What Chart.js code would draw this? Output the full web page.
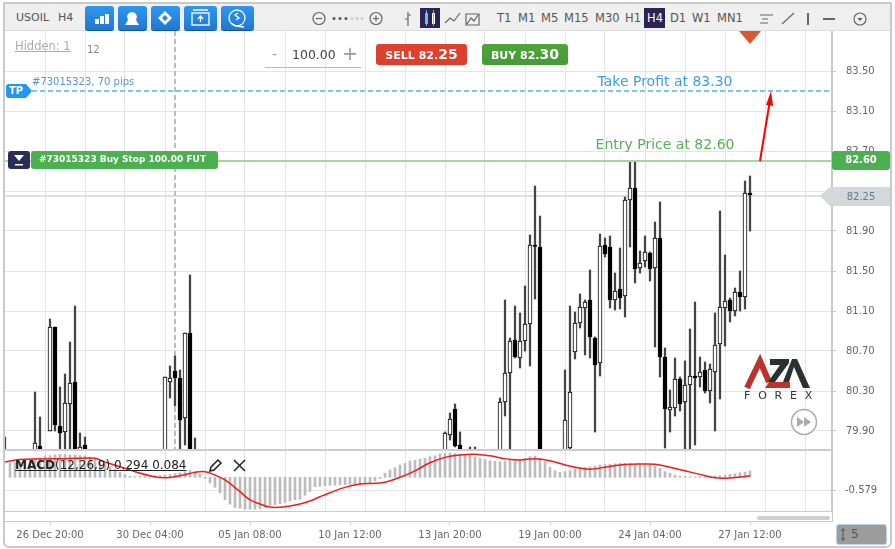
<!DOCTYPE html>
<html>
<head>
<meta charset="utf-8">
<title>USOIL H4</title>
<script src="https://cdn.jsdelivr.net/npm/chart.js@4/dist/chart.umd.min.js"></script>
<style>
html, body { margin: 0; padding: 0; background: #fff; width: 895px; height: 549px; overflow: hidden; font-family: "DejaVu Sans", sans-serif; }
canvas { position: absolute; left: 0; display: block; }
#chartPrecio { top: 0; }
#chartMacd { top: 450px; }
.abs { position: absolute; white-space: nowrap; }
#marco { left: 3px; top: 2px; width: 885px; height: 542px; border: 2px solid #c9c9c9; border-radius: 0 0 6px 6px; pointer-events: none; }
#toolbar { left: 5px; top: 4px; width: 885px; height: 27px; background: #efefef; border-bottom: 1px solid #ddd; box-sizing: border-box; }
.tb { font-size: 11px; color: #555; top: 11px; line-height: 13px; }
.tf { font-size: 11.5px; color: #555; top: 11px; line-height: 14px; }
.btn { top: 6px; height: 25px; border-radius: 3px; background: linear-gradient(#2e97ee, #1f78d4); border-bottom: 1px solid #14539a; box-sizing: border-box; }
#h4box { left: 644px; top: 8px; width: 21px; height: 20px; background: #2d2350; }
#banda { left: 5px; top: 512px; width: 827px; height: 9px; background: #fff; }
#barra { left: 757px; top: 516px; width: 73px; height: 4px; background: #cfcfcf; border-radius: 2px; }
#sell, #buy { top: 44px; height: 21px; border-radius: 3px; color: #fff; font-weight: bold; font-size: 11px; line-height: 21px; text-align: center; }
#sell { left: 376px; width: 91px; background: linear-gradient(#e2402f, #d8402e); }
#buy { left: 482px; width: 86px; background: linear-gradient(#4ea53a, #479a38); }
#sell b, #buy b { font-size: 14px; }
#caja5 { left: 836px; top: 524px; width: 51px; height: 21px; background: #9c9c9c; border: 1px solid #b9d3e6; border-radius: 3px; box-sizing: border-box; color: #555; font-size: 12px; line-height: 19px; padding-left: 14px; }
</style>
</head>
<body>
<canvas id="chartPrecio" width="895" height="450"></canvas>
<canvas id="chartMacd" width="895" height="99"></canvas>

<div class="abs" id="banda"></div>
<div class="abs" id="barra"></div>
<div class="abs" id="toolbar"></div>
<div class="abs tb" style="left:16px">USOIL</div>
<div class="abs tb" style="left:58px">H4</div>
<div class="abs btn" style="left:85px;width:29px"></div>
<div class="abs btn" style="left:118px;width:29px"></div>
<div class="abs btn" style="left:151px;width:29px"></div>
<div class="abs btn" style="left:184px;width:33px"></div>
<div class="abs btn" style="left:221px;width:33px"></div>
<div class="abs" id="h4box"></div>
<div class="abs tf" style="left:497px">T1</div>
<div class="abs tf" style="left:518px">M1</div>
<div class="abs tf" style="left:541px">M5</div>
<div class="abs tf" style="left:564px">M15</div>
<div class="abs tf" style="left:595px">M30</div>
<div class="abs tf" style="left:625px">H1</div>
<div class="abs tf" style="left:647px;color:#fff">H4</div>
<div class="abs tf" style="left:670px">D1</div>
<div class="abs tf" style="left:692px">W1</div>
<div class="abs tf" style="left:717px">MN1</div>

<div class="abs" style="left:15px;top:39px;font-size:11.5px;color:#aaa;text-decoration:underline">Hidden: 1</div>
<div class="abs" style="left:87px;top:44px;font-size:10px;color:#888">12</div>
<div class="abs" style="left:272px;top:46px;font-size:14px;color:#999">-</div>
<div class="abs" style="left:292px;top:47px;font-size:12.5px;color:#444">100.00</div>
<div class="abs" style="left:342px;top:42px;font-size:19px;color:#999">+</div>
<div class="abs" style="left:265px;top:67px;width:96px;height:1px;background:#bbb"></div>
<div class="abs" id="sell">SELL 82.<b>25</b></div>
<div class="abs" id="buy">BUY 82.<b>30</b></div>
<div class="abs" style="left:15px;top:458px;font-size:12px;color:#222;text-decoration:underline"><b>MACD</b>(12,26,9) 0.294 0.084</div>
<div class="abs" style="left:744px;top:389px;font-size:11px;color:#333;letter-spacing:7.8px">FOREX</div>
<div class="abs" id="caja5">5</div>

<svg class="abs" style="left:0;top:0;pointer-events:none" width="895" height="549">
  <!-- botones azules -->
  <g fill="#fff">
    <rect x="95" y="19" width="4" height="5"/><rect x="100" y="16" width="4" height="8"/><rect x="105" y="14" width="4" height="10"/>
    <path d="M132 12a5 5 0 0 1 4 8l3 5h-14l3-5a5 5 0 0 1 4-8z"/>
    <path d="M165 11l7 7-7 7-7-7zM165 15l-3 3 3 3 3-3z" fill-rule="evenodd"/>
  </g>
  <g fill="none" stroke="#fff" stroke-width="1.3">
    <rect x="192" y="13" width="17" height="12"/><path d="M193 10h15M200.500 22v-5M198 19l2.500-3 2.500 3"/>
    <circle cx="237" cy="18" r="8"/><path d="M231 23l5 3 8 1M238 13l-3 2 4 3-3 2"/>
  </g>
  <!-- zoom y tipos de grafico -->
  <g fill="none" stroke="#666" stroke-width="1.2">
    <circle cx="319" cy="18.500" r="6"/><path d="M316 18.500h6"/>
    <circle cx="376" cy="18.500" r="6"/><path d="M373 18.500h6M376 15.500v6"/>
    <path d="M408 12v14M405 19h3M408 15h3"/>
    <path d="M445 23l5-5 4 3 6-8"/>
    <path d="M466 25v-11h13v11zM467 24l4-6 3 3 4-6"/>
    <path d="M760 15h13M762 19h6M760 23h8"/><path d="M782 24l12-11"/>
    <path d="M808 13v12" stroke-width="2"/><path d="M823 19h12" stroke-width="2"/>
    <circle cx="860" cy="19" r="6"/>
  </g>
  <g fill="#555">
    <circle cx="334" cy="18.500" r="1.500"/><circle cx="340" cy="18.500" r="1.500"/><circle cx="346" cy="18.500" r="1.500"/>
    <path d="M857.500 18h5l-2.500 3z"/>
  </g>
  <g fill="#ccc"><circle cx="352" cy="18.500" r="1.500"/><circle cx="357" cy="18.500" r="1.500"/><circle cx="362" cy="18.500" r="1.500"/></g>
  <rect x="420" y="8" width="20" height="20" fill="#2d2350"/>
  <rect x="425" y="13" width="3" height="11" fill="#e8a040"/><rect x="432" y="13" width="3" height="11" fill="#fff"/>
  <path d="M426.500 10v16M433.500 10v16" stroke="#7fb8e8"/>
  <!-- marcador superior -->
  <path d="M739 31h22l-11 13z" fill="#dd5430"/>
  <!-- logo -->
  <path d="M747 388l13-27 9 21" fill="none" stroke="#bb342c" stroke-width="6"/>
  <path d="M769 382h21v6h-25z" fill="#bb342c"/>
  <path d="M770 359h19v4l-14 19h-7l12-17h-10z" fill="#2b3035"/>
  <path d="M783 382l9-23h5l13 29h-7l-9-21-5 15z" fill="#2b3035"/>
  <!-- avance rapido -->
  <circle cx="804" cy="422" r="12.500" fill="#fff" stroke="#aaa" stroke-width="1.500"/>
  <path d="M797 417l7 5-7 5zM804 417l7 5-7 5z" fill="#aaa"/>
  <!-- editar y cerrar macd -->
  <path d="M210 471l1-4 7-7 3 3-7 7z" fill="none" stroke="#222" stroke-width="1.500"/>
  <path d="M234 460l11 11M245 460l-11 11" stroke="#222" stroke-width="1.500"/>
  <!-- lineas del panel -->
  <rect x="5" y="449" width="827" height="2" fill="#ccc"/>
  <rect x="5" y="511" width="827" height="1" fill="#ccc"/>
  <path d="M843 528v13M841 531l2-2 2 2M841 538l2 2 2-2" stroke="#555" fill="none"/>
</svg>
<div class="abs" id="marco"></div>

<script>
// Eje de precios y de tiempo
const priceTicks = [83.5, 83.1, 82.7, 82.3, 81.9, 81.5, 81.1, 80.7, 80.3, 79.9];
const hiddenPriceLabel = 82.3; // queda tapada por la etiqueta del precio actual
const timeLabels = ['26 Dec 20:00', '30 Dec 04:00', '05 Jan 08:00', '10 Jan 12:00', '13 Jan 20:00', '19 Jan 00:00', '24 Jan 04:00', '27 Jan 12:00'];
const timeLabelIndex = [9, 29, 49, 69, 89, 109, 129, 149];
const gridIndex = [8, 16, 24, 32, 40, 48, 56, 64, 72, 80, 88, 96, 104, 112, 120, 128, 136, 144, 152, 160];
const macdTicks = [-0.579];

// Velas visibles (posicion de la vela en la serie H4)
const candleIndex = [0, 6, 7, 9, 10, 11, 12, 13, 14, 15, 16, 32, 33, 34, 35, 36, 37, 38, 88, 89, 90, 91, 93, 94, 99, 100, 101, 102, 103, 104, 105, 106, 107, 112, 113, 114, 115, 116, 117, 118, 119, 120, 121, 122, 123, 124, 125, 126, 127, 128, 129, 130, 131, 132, 133, 134, 135, 136, 137, 138, 139, 140, 141, 142, 143, 144, 145, 146, 147, 148, 149];
const candleOpen = [79.5, 79.5, 79.75, 79.9, 80.94, 79.95, 79.89, 80.17, 80.39, 79.6, 79.76, 79.5, 80.39, 80.5, 80.43, 80.03, 80.88, 79.7, 79.5, 79.86, 80.12, 79.76, 79.6, 79.6, 79.5, 80.19, 80.48, 80.81, 80.63, 80.8, 80.97, 81.76, 81.74, 79.5, 79.73, 80.69, 80.98, 81.13, 81.21, 80.83, 80.58, 81.76, 81.74, 81.21, 81.32, 81.25, 82.21, 82.33, 81.53, 81.6, 81.68, 81.53, 81.83, 80.64, 80.11, 80.13, 80.42, 80.19, 80.36, 80.45, 80.44, 80.51, 80.3, 80.49, 80.77, 81.13, 81.21, 81.1, 81.29, 81.24, 82.28];
const candleHigh = [79.84, 80.29, 80.04, 81.02, 80.94, 80.34, 80.47, 80.79, 81.15, 79.88, 79.84, 80.44, 80.55, 80.65, 80.51, 80.88, 81.46, 79.83, 79.89, 80.08, 80.17, 79.89, 79.74, 79.74, 80.23, 81.21, 80.83, 81.15, 81.08, 81.35, 81.86, 82.35, 82.05, 80.51, 81.15, 81.09, 81.27, 81.21, 81.51, 80.84, 81.87, 81.83, 81.85, 81.48, 81.73, 82.24, 82.59, 82.59, 81.7, 81.85, 81.69, 81.99, 82.19, 80.73, 80.31, 80.63, 80.44, 80.6, 80.92, 81.19, 80.64, 80.59, 80.57, 81.08, 82.1, 81.66, 81.23, 81.33, 81.5, 82.4, 82.45];
const candleLow = [79.4, 79.4, 79.4, 79.9, 79.9, 79.6, 79.6, 79.6, 79.5, 79.5, 79.5, 79.4, 80.23, 80.15, 79.6, 79.76, 79.5, 79.5, 79.4, 79.81, 79.74, 79.5, 79.4, 79.4, 79.4, 80.05, 79.5, 80.63, 80.53, 80.7, 80.55, 81.22, 79.4, 79.4, 79.6, 80.62, 80.93, 80.66, 80.63, 79.89, 80.45, 81.64, 81.13, 81.11, 81.12, 81.04, 81.74, 81.38, 81.48, 81.54, 81.4, 80.74, 80.44, 79.73, 79.89, 80.05, 80.1, 79.6, 79.6, 79.76, 80.34, 80.28, 80.18, 79.9, 80.22, 80.75, 80.99, 81.05, 81.1, 81.12, 81.9];
const candleClose = [79.6, 79.78, 79.5, 80.94, 79.96, 79.88, 80.18, 80.38, 79.6, 79.74, 79.6, 80.44, 80.43, 80.43, 80.01, 80.88, 79.6, 79.6, 79.88, 80.02, 79.75, 79.6, 79.5, 79.5, 80.19, 80.48, 80.8, 80.64, 80.8, 80.97, 81.76, 81.745, 79.5, 80.01, 80.29, 80.98, 81.14, 81.19, 80.84, 80.56, 81.75, 81.67, 81.21, 81.3, 81.23, 82.21, 82.33, 81.52, 81.58, 81.69, 81.52, 81.83, 80.64, 80.12, 80.14, 80.42, 80.17, 80.36, 80.45, 80.43, 80.49, 80.3, 80.52, 80.76, 81.14, 81.2, 81.1, 81.29, 81.24, 82.28, 82.26];

// MACD: histograma desde la vela 1, senal leida por tramos
const macdHist = [0.65, 0.65, 0.7, 0.75, 0.8, 0.85, 0.88, 0.93, 0.97, 1.0, 1.02, 1.02, 1.0, 1.0, 0.97, 0.95, 0.9, 0.85, 0.75, 0.62, 0.48, 0.35, 0.22, 0.12, 0.05, 0.03, 0.04, 0.05, 0.06, 0.07, 0.08, 0.1, 0.12, 0.16, 0.2, 0.25, 0.3, 0.26, 0.14, -0.05, -0.25, -0.45, -0.7, -1.0, -1.2, -1.35, -1.38, -1.42, -1.42, -1.43, -1.42, -1.35, -1.25, -1.22, -1.18, -1.12, -1.05, -1.0, -0.98, -0.8, -0.63, -0.42, -0.4, -0.37, -0.36, -0.35, -0.34, -0.33, -0.32, -0.31, -0.3, -0.28, -0.24, -0.15, -0.05, 0.18, 0.33, 0.42, 0.55, 0.62, 0.73, 0.76, 0.8, 0.85, 0.92, 0.96, 1.04, 1.06, 1.07, 1.06, 1.04, 1.0, 0.97, 0.9, 0.85, 0.78, 0.74, 0.72, 0.7, 0.72, 0.77, 0.77, 0.77, 0.85, 0.92, 0.95, 0.85, 0.7, 0.45, 0.3, 0.22, 0.25, 0.3, 0.38, 0.45, 0.45, 0.45, 0.5, 0.55, 0.57, 0.58, 0.6, 0.62, 0.62, 0.62, 0.6, 0.6, 0.58, 0.55, 0.5, 0.4, 0.25, 0.18, 0.1, 0.06, 0.04, 0.03, 0.02, 0.03, 0.04, 0.05, 0.06, 0.07, 0.1, 0.13, 0.16, 0.2, 0.23, 0.28];
const signalIndex = [0, 3, 7, 11, 15, 18, 20, 23, 26, 29, 32, 35, 38, 40, 42, 44, 47, 49, 51, 53, 55, 57, 59, 61, 63, 65, 68, 71, 74, 76, 79, 82, 85, 88, 91, 94, 97, 100, 103, 106, 109, 112, 114, 117, 120, 123, 127, 130, 133, 136, 139, 142, 145, 149];
const signalValues = [0.68, 0.79, 0.82, 0.83, 0.85, 0.85, 0.68, 0.47, 0.25, 0.07, -0.02, 0.07, 0.22, 0.25, 0.1, -0.12, -0.64, -1.01, -1.19, -1.33, -1.34, -1.28, -1.19, -1.06, -0.87, -0.69, -0.45, -0.3, -0.27, -0.22, 0, 0.29, 0.65, 0.89, 1.0, 1.03, 0.96, 0.83, 0.77, 0.83, 0.74, 0.55, 0.45, 0.36, 0.45, 0.55, 0.59, 0.58, 0.45, 0.29, 0.13, -0.02, -0.03, 0.07];

// Niveles de la orden
const tpPrice = 83.30;
const entryPrice = 82.60;
const currentPrice = 82.25;
const separatorIndex = 34;
const arrowFrom = { x: 151, y: 82.60 };
const arrowTo = { x: 153.2, y: 83.30 };

const X_MIN = 0;
const X_MAX = 165.4;
const GRID = '#e4e4e4';
const AXIS = '#c9c9c9';
const TICK_FONT = { family: 'DejaVu Sans', size: 10 };

// El padding de las etiquetas no debe encoger el area del grafico
function fixYAxis(s) {
    s.width = 63;
    s.paddingTop = 0;
    s.paddingBottom = 0;
}

const xScaleBase = {
    type: 'linear',
    min: X_MIN,
    max: X_MAX,
    offset: false,
    border: { display: false },
    grid: { offset: false, color: GRID, drawTicks: false },
    ticks: { display: false },
    afterBuildTicks: (s) => { s.ticks = gridIndex.map(v => ({ value: v })); },
    afterFit: (s) => { s.height = 0; s.paddingLeft = 0; s.paddingRight = 0; }
};

// Lineas y etiquetas de la orden, sobre las escalas del grafico
const orderPlugin = {
    id: 'orderLevels',
    beforeDatasetsDraw(chart) {
        const { ctx, scales: { x, y }, chartArea: a } = chart;
        ctx.save();
        ctx.fillStyle = '#e0e0e0';
        ctx.fillRect(a.left, Math.round(y.getPixelForValue(currentPrice)) - 1, a.right - a.left, 2);
        ctx.strokeStyle = '#bdbdbd';
        ctx.lineWidth = 2;
        ctx.setLineDash([5, 3]);
        ctx.beginPath();
        ctx.moveTo(x.getPixelForValue(separatorIndex), a.top);
        ctx.lineTo(x.getPixelForValue(separatorIndex), a.bottom);
        ctx.stroke();
        ctx.restore();
    },
    afterDraw(chart) {
        const { ctx, scales: { x, y }, chartArea: a } = chart;
        const tpY = Math.round(y.getPixelForValue(tpPrice));
        const entryY = Math.round(y.getPixelForValue(entryPrice));
        const curY = Math.round(y.getPixelForValue(currentPrice));
        ctx.save();

        // take profit
        ctx.strokeStyle = '#7fc0f5';
        ctx.lineWidth = 2;
        ctx.setLineDash([5, 3]);
        ctx.beginPath();
        ctx.moveTo(32, tpY);
        ctx.lineTo(a.right, tpY);
        ctx.stroke();
        ctx.setLineDash([]);
        ctx.fillStyle = '#2196f3';
        ctx.beginPath();
        ctx.roundRect(6, tpY - 7, 20, 14, 3);
        ctx.moveTo(22, tpY - 7);
        ctx.lineTo(26, tpY - 7);
        ctx.lineTo(32, tpY);
        ctx.lineTo(26, tpY + 7);
        ctx.lineTo(22, tpY + 7);
        ctx.fill();

        // entrada
        ctx.fillStyle = '#a5d6a2';
        ctx.fillRect(a.left, entryY - 1, a.right - a.left, 2);
        ctx.fillStyle = '#4caf50';
        ctx.beginPath();
        ctx.roundRect(31, entryY - 10, 187, 18, 3);
        ctx.fill();
        ctx.fillStyle = '#2a2d55';
        ctx.beginPath();
        ctx.roundRect(8, entryY - 10, 22, 18, 3);
        ctx.fill();
        ctx.fillStyle = '#fff';
        ctx.beginPath();
        ctx.moveTo(14, entryY - 6);
        ctx.lineTo(24, entryY - 6);
        ctx.lineTo(19, entryY);
        ctx.fill();
        ctx.fillRect(15, entryY + 3, 8, 1.5);
        ctx.fillStyle = '#4caf50';
        ctx.beginPath();
        ctx.roundRect(a.right, entryY - 10, 58, 19, 3);
        ctx.fill();

        // precio actual
        ctx.fillStyle = '#d3d8dc';
        ctx.beginPath();
        ctx.moveTo(820, curY);
        ctx.lineTo(830, curY - 9);
        ctx.lineTo(890, curY - 9);
        ctx.lineTo(890, curY + 10);
        ctx.lineTo(830, curY + 10);
        ctx.fill();

        // flecha
        const x0 = x.getPixelForValue(arrowFrom.x), y0 = y.getPixelForValue(arrowFrom.y);
        const x1 = x.getPixelForValue(arrowTo.x), y1 = y.getPixelForValue(arrowTo.y);
        ctx.strokeStyle = '#f00';
        ctx.fillStyle = '#f00';
        ctx.lineWidth = 2;
        ctx.beginPath();
        ctx.moveTo(x0, y0);
        ctx.lineTo(x1 - 1.5, y1 + 12);
        ctx.stroke();
        ctx.beginPath();
        ctx.moveTo(x1, y1);
        ctx.lineTo(x1 + 2, y1 + 15);
        ctx.lineTo(x1 - 5, y1 + 14);
        ctx.fill();

        // textos
        ctx.textBaseline = 'middle';
        ctx.textAlign = 'left';
        ctx.font = '10px "DejaVu Sans"';
        ctx.fillStyle = '#5b8fe0';
        ctx.fillText('#73015323, 70 pips', 32, tpY - 9);
        ctx.font = 'bold 10px "DejaVu Sans"';
        ctx.fillStyle = '#fff';
        ctx.fillText('TP', 9, tpY);
        ctx.font = 'bold 9px "DejaVu Sans"';
        ctx.fillText('#73015323 Buy Stop 100.00 FUT', 39, entryY - 1);
        ctx.textAlign = 'center';
        ctx.font = 'bold 10px "DejaVu Sans"';
        ctx.fillText(entryPrice.toFixed(2), 861, entryY - 1);
        ctx.font = '10px "DejaVu Sans"';
        ctx.fillStyle = '#66788a';
        ctx.fillText(currentPrice.toFixed(2), 861, curY + 1);
        ctx.font = '14px "DejaVu Sans"';
        ctx.fillStyle = '#3d9ee8';
        ctx.fillText('Take Profit at ' + tpPrice.toFixed(2), x.getPixelForValue(132), tpY - 9);
        ctx.fillStyle = '#56b05a';
        ctx.fillText('Entry Price at ' + entryPrice.toFixed(2), x.getPixelForValue(132), entryY - 16);
        ctx.restore();
    }
};

function renderPriceChart() {
    new Chart(document.getElementById('chartPrecio'), {
        type: 'bar',
        data: {
            datasets: [
                {
                    label: 'Cuerpo',
                    order: 1,
                    data: candleIndex.map((v, i) => ({ x: v, y: [candleOpen[i], candleClose[i]] })),
                    backgroundColor: candleIndex.map((v, i) => candleClose[i] >= candleOpen[i] ? '#fff' : '#000'),
                    borderColor: '#000',
                    borderWidth: 1,
                    borderSkipped: false,
                    barThickness: 4,
                    grouped: false
                },
                {
                    label: 'Mecha',
                    order: 2,
                    data: candleIndex.map((v, i) => ({ x: v, y: [candleLow[i], candleHigh[i]] })),
                    backgroundColor: '#444',
                    barThickness: 1.6,
                    grouped: false
                }
            ]
        },
        options: {
            responsive: false,
            animation: false,
            devicePixelRatio: 1,
            events: [],
            layout: { padding: { left: 5, top: 31, right: 0, bottom: 1 } },
            plugins: { legend: { display: false }, tooltip: { enabled: false } },
            scales: {
                x: xScaleBase,
                y: {
                    position: 'right',
                    min: 79.72,
                    max: 83.9,
                    border: { color: AXIS, width: 2 },
                    grid: { color: GRID, tickColor: AXIS, tickLength: 4 },
                    ticks: {
                        font: TICK_FONT,
                        color: '#666',
                        padding: 10,
                        callback: (v) => v === hiddenPriceLabel ? '' : v.toFixed(2)
                    },
                    afterBuildTicks: (s) => { s.ticks = priceTicks.map(v => ({ value: v })); },
                    afterFit: fixYAxis
                }
            }
        },
        plugins: [orderPlugin]
    });
}

function renderMacdChart() {
    new Chart(document.getElementById('chartMacd'), {
        type: 'bar',
        data: {
            datasets: [
                {
                    type: 'line',
                    label: 'Signal',
                    order: 1,
                    data: signalIndex.map((v, i) => ({ x: v, y: signalValues[i] })),
                    borderColor: '#f01c1c',
                    borderWidth: 1.5,
                    pointRadius: 0,
                    tension: 0.4
                },
                {
                    label: 'MACD',
                    order: 2,
                    data: macdHist.map((v, i) => ({ x: i + 1, y: v })),
                    backgroundColor: '#bcbcbc',
                    barThickness: 2,
                    grouped: false
                }
            ]
        },
        options: {
            responsive: false,
            animation: false,
            devicePixelRatio: 1,
            events: [],
            layout: { padding: { left: 5, top: 1, right: 0, bottom: 0 } },
            plugins: { legend: { display: false }, tooltip: { enabled: false } },
            scales: {
                x: {
                    type: 'linear',
                    min: X_MIN,
                    max: X_MAX,
                    offset: false,
                    border: { color: AXIS, width: 2 },
                    grid: {
                        offset: false,
                        tickLength: 4,
                        color: (c) => gridIndex.includes(c.tick.value) ? GRID : 'transparent',
                        tickColor: (c) => timeLabelIndex.includes(c.tick.value) ? AXIS : 'transparent'
                    },
                    ticks: {
                        font: TICK_FONT,
                        color: '#666',
                        padding: 4,
                        autoSkip: false,
                        maxRotation: 0,
                        callback: (v) => {
                            const pos = timeLabelIndex.indexOf(v);
                            return pos >= 0 ? timeLabels[pos] : '';
                        }
                    },
                    afterBuildTicks: (s) => {
                        s.ticks = gridIndex.concat(timeLabelIndex).sort((a, b) => a - b).map(v => ({ value: v }));
                    },
                    afterFit: (s) => { s.height = 28; s.paddingLeft = 0; s.paddingRight = 0; }
                },
                y: {
                    position: 'right',
                    min: -1.951,
                    max: 1.174,
                    border: { color: AXIS, width: 2 },
                    grid: { color: GRID, tickColor: AXIS, tickLength: 4 },
                    ticks: { font: TICK_FONT, color: '#666', padding: 9, callback: (v) => v.toFixed(3) },
                    afterBuildTicks: (s) => { s.ticks = macdTicks.map(v => ({ value: v })); },
                    afterFit: fixYAxis
                }
            }
        }
    });
}

renderPriceChart();
renderMacdChart();
</script>
</body>
</html>
